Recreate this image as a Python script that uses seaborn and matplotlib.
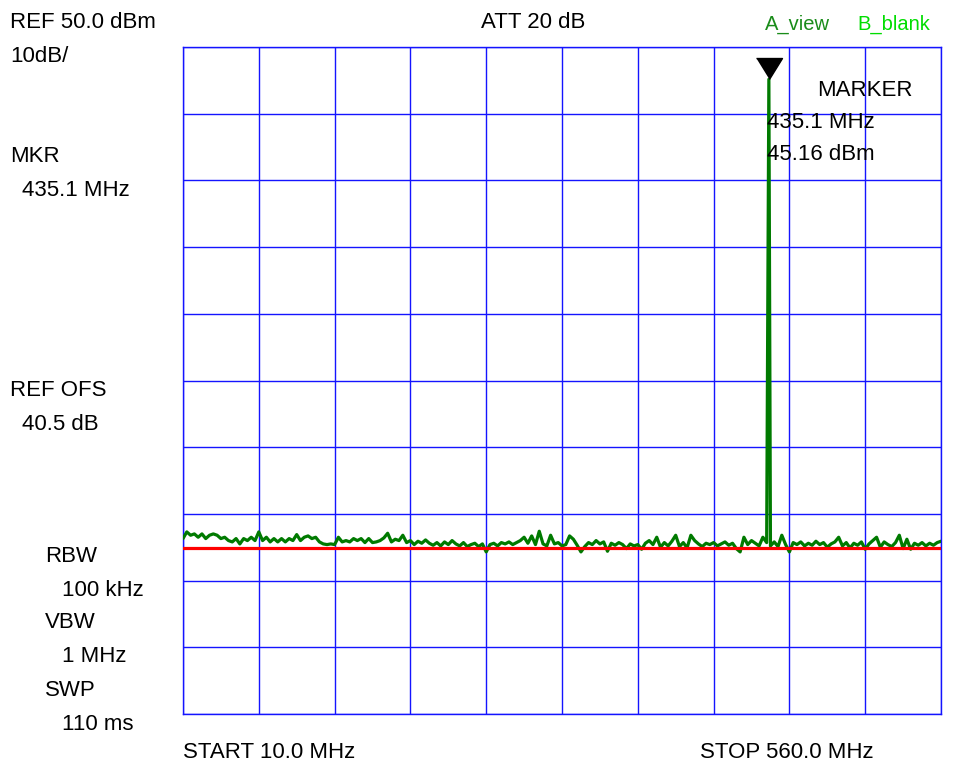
import numpy as np
import pandas as pd
import matplotlib
matplotlib.use("Agg")
import matplotlib.pyplot as plt
import seaborn as sns

# ---------------- data ----------------
start_mhz = 10.0
stop_mhz = 560.0
ref_level = 50.0
db_per_div = 10.0
n_div = 10

# noise trace (dBm), 201 sweep points from START to STOP
noise_dbm = [
    -23.7, -22.7, -23.2, -23.0, -23.5, -23.0, -23.7, -23.2, -23.0, -23.2,
    -23.7, -23.5, -24.0, -24.2, -23.7, -24.5, -23.7, -24.0, -23.5, -24.0,
    -22.7, -24.0, -23.5, -24.2, -23.7, -24.2, -23.7, -24.2, -23.7, -24.0,
    -23.1, -24.0, -23.5, -23.3, -23.7, -23.5, -24.2, -24.5, -24.6, -24.5,
    -24.6, -23.5, -24.2, -24.0, -24.2, -23.7, -24.0, -23.7, -24.3, -23.7,
    -24.3, -24.2, -24.0, -23.6, -22.9, -24.2, -23.8, -24.0, -23.2, -24.3,
    -24.0, -24.6, -24.1, -24.4, -23.9, -24.4, -24.7, -24.3, -24.8, -24.2,
    -24.6, -24.0, -24.5, -24.8, -24.3, -24.9, -24.6, -24.4, -24.9, -24.5,
    -25.7, -24.6, -24.4, -24.8, -24.3, -24.5, -24.2, -24.6, -24.3, -24.0,
    -23.5, -24.4, -23.3, -24.6, -22.6, -24.5, -24.8, -23.2, -24.5, -24.3,
    -24.8, -24.6, -23.3, -23.8, -24.7, -25.7, -24.9, -24.3, -24.6, -24.0,
    -24.5, -24.2, -25.6, -24.4, -24.7, -24.3, -24.6, -25.2, -24.5, -24.8,
    -24.6, -25.3, -24.4, -24.0, -24.6, -23.5, -25.0, -24.3, -24.8, -24.1,
    -23.2, -24.9, -24.3, -25.1, -23.2, -24.0, -24.5, -24.9, -24.4, -24.6,
    -24.3, -24.8, -24.5, -24.2, -24.7, -24.4, -25.2, -25.7, -23.5, -24.6,
    -24.0, -24.4, -24.8, -23.5, -24.3, -24.8, -24.2, -24.9, -23.2, -24.6,
    -25.7, -24.3, -24.6, -24.2, -24.8, -24.4, -24.7, -24.1, -24.6, -24.3,
    -25.0, -24.5, -24.2, -23.5, -24.8, -24.3, -25.1, -24.4, -24.7, -24.2,
    -25.3, -24.5, -24.0, -23.5, -25.0, -24.2, -24.6, -24.9, -24.3, -23.2,
    -25.2, -23.8, -25.3, -24.4, -24.7, -24.3, -24.8, -24.4, -24.7, -24.3,
    -24.1,
]

marker_mhz = 435.1
marker_dbm = 45.16
limit_dbm = -25.1

# ---------------- build trace ----------------
sweep = np.linspace(start_mhz, stop_mhz, len(noise_dbm))
trace = pd.DataFrame({"freq": sweep, "level": noise_dbm})
trace = pd.concat([trace, pd.DataFrame({"freq": [marker_mhz], "level": [marker_dbm]})])
trace = trace.sort_values("freq").reset_index(drop=True)

# ---------------- figure ----------------
sns.set_style("white")
plt.rcParams["font.family"] = ["Liberation Sans", "DejaVu Sans"]

W, H = 956, 768
fig = plt.figure(figsize=(W / 100, H / 100), dpi=100)
x0, x1, y0, y1 = 183, 941, 47, 714
ax = fig.add_axes([x0 / W, 1 - y1 / H, (x1 - x0) / W, (y1 - y0) / H])

bottom = ref_level - db_per_div * n_div
ax.set_xlim(start_mhz, stop_mhz)
ax.set_ylim(bottom, ref_level)
ax.set_xticks(np.linspace(start_mhz, stop_mhz, n_div + 1))
ax.set_yticks(np.linspace(bottom, ref_level, n_div + 1))
ax.tick_params(length=0, labelbottom=False, labelleft=False)
ax.grid(True, color="#1414ff", lw=1.0)
for s in ax.spines.values():
    s.set_color("#1414ff")
    s.set_linewidth(1.0)

sns.lineplot(data=trace, x="freq", y="level", ax=ax, color="#007a00",
             lw=2.3, sort=False, estimator=None, zorder=3)
ax.axhline(limit_dbm, color="#ff0000", lw=2.3, zorder=4)

# marker triangle with tip at the peak
tri = [(-13, 21), (13, 21), (0, 0)]
ax.plot([marker_mhz], [marker_dbm], marker=tri, markersize=30.2, color="black",
        linestyle="none", zorder=5, clip_on=False)
ax.set_xlabel("")
ax.set_ylabel("")

fs = 16
def ftxt(x, y, s, **kw):
    kw.setdefault("fontsize", fs)
    kw.setdefault("color", "black")
    fig.text(x / W, 1 - y / H, s, va="center", ha="left", **kw)

ftxt(10, 22, "REF 50.0 dBm")
ftxt(10, 57, "10dB/")
ftxt(10, 157, "MKR")
ftxt(22, 190, "435.1 MHz")
ftxt(10, 390, "REF OFS")
ftxt(22, 424, "40.5 dB")
ftxt(45, 557, "RBW")
ftxt(62, 590, "100 kHz")
ftxt(45, 623, "VBW")
ftxt(62, 657, "1 MHz")
ftxt(45, 690, "SWP")
ftxt(62, 724, "110 ms")
ftxt(481, 22, "ATT 20 dB")
ftxt(765, 24, "A_view", color="#1a8c1a", fontsize=14.5)
ftxt(857, 24, "B_blank", color="#00dd00", fontsize=14.5)
ftxt(817, 90, "MARKER")
ftxt(767, 122, "435.1 MHz")
ftxt(767, 155, "45.16 dBm")
ftxt(183, 752, "START 10.0 MHz")
ftxt(700, 752, "STOP 560.0 MHz")

fig.savefig("out.png", dpi=100, facecolor="white")
